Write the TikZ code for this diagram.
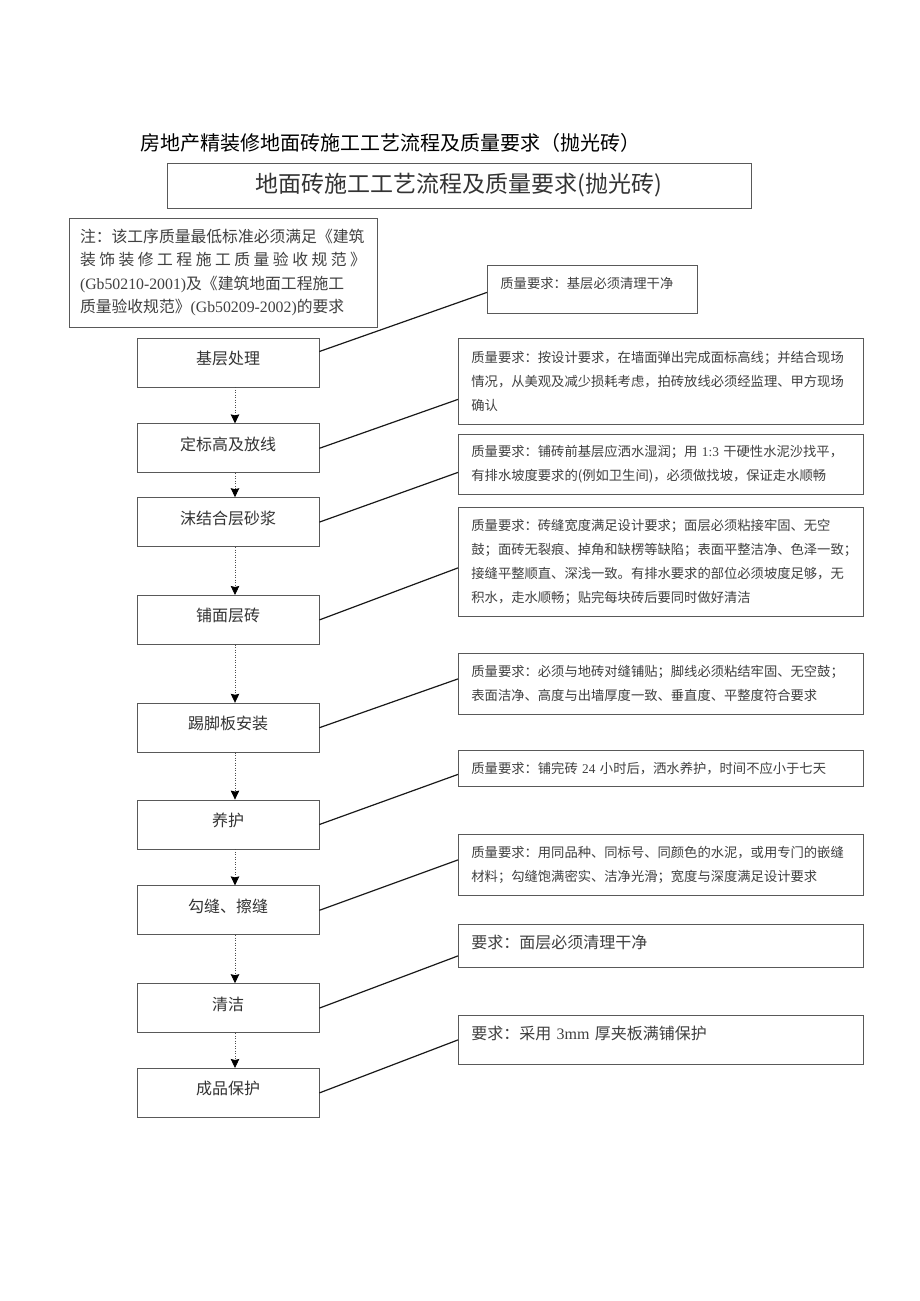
\documentclass[tikz,border=0pt]{standalone}
\usepackage{fontspec}
\setmainfont{Noto Sans CJK SC}
\newfontfamily\latin{Liberation Serif}
\usetikzlibrary{positioning,arrows.meta}

\tikzset{
  proc/.style={draw=black!65, line width=0.8pt, minimum width=182pt, minimum height=49pt,
    text=black!80, font=\fontsize{16}{16}\selectfont, text height=10pt, text depth=6pt},
  req/.style={draw=black!65, line width=0.8pt, anchor=north west, inner xsep=13pt,
    text width=379pt, align=left, text=black!75, font=\fontsize{13.3}{24}\selectfont},
  note/.style={draw=black!65, line width=0.8pt, inner xsep=11pt, text width=286pt,
    minimum height=109pt, align=left, text=black!75, font=\fontsize{15.8}{23.5}\selectfont},
  flow/.style={dash pattern=on 1pt off 1.5pt, line width=0.8pt, draw=black!70,
    -{Stealth[length=9pt, width=8.5pt, inset=1pt, black]}},
  link/.style={line width=1.2pt, draw=black!90},
}

\begin{document}
\begin{tikzpicture}[x=1pt, y=-1pt]
  \useasboundingbox[fill=white] (0,0) rectangle (920,1301);

  % headings
  \node[anchor=west, font=\fontsize{20}{20}\selectfont] (head) at (137,143)
    {房地产精装修地面砖施工工艺流程及质量要求（抛光砖）};
  \node[draw=black!65, line width=0.8pt, minimum width=584pt, minimum height=45pt,
    text=black!80, font=\fontsize{23}{23}\selectfont] (title) at (459,185.5)
    {地面砖施工工艺流程及质量要求(抛光砖)};

  % note
  \node[note] (nt) at (223,272.5) {注：该工序质量最低标准必须满足《建筑\\
    \makebox[286pt][s]{装\hfil 饰\hfil 装\hfil 修\hfil 工\hfil 程\hfil 施\hfil 工\hfil 质\hfil 量\hfil 验\hfil 收\hfil 规\hfil 范\hfil 》}\\
    {\latin (Gb50210-2001)}及《建筑地面工程施工\\
    质量验收规范》{\latin (Gb50209-2002)}的要求};

  % process steps
  \node[proc] (jc) at (228,362.5) {基层处理};
  \node[proc, below=36pt of jc] (dbg) {定标高及放线};
  \node[proc, below=24pt of dbg] (mj) {沫结合层砂浆};
  \node[proc, below=48pt of mj] (pz) {铺面层砖};
  \node[proc, below=58pt of pz] (tjb) {踢脚板安装};
  \node[proc, below=47pt of tjb] (yh) {养护};
  \node[proc, below=36pt of yh] (gf) {勾缝、擦缝};
  \node[proc, below=48pt of gf] (qj) {清洁};
  \node[proc, below=35pt of qj] (cp) {成品保护};

  % requirements
  \node[req, text width=184pt, inner ysep=0pt, text height=23pt, text depth=25pt] (r-jc) at (487,265)
    {质量要求：基层必须清理干净};
  \node[req, minimum height=86pt] (r-dbg) at (458,338)
    {质量要求：按设计要求，在墙面弹出完成面标高线；并结合现场\\
     情况，从美观及减少损耗考虑，拍砖放线必须经监理、甲方现场\\
     确认};
  \node[req, minimum height=60pt] (r-mj) at (458,434)
    {质量要求：铺砖前基层应洒水湿润；用 {\latin 1:3} 干硬性水泥沙找平，\\
     有排水坡度要求的(例如卫生间)，必须做找坡，保证走水顺畅};
  \node[req, minimum height=109pt] (r-pz) at (458,507)
    {质量要求：砖缝宽度满足设计要求；面层必须粘接牢固、无空\\
     鼓；面砖无裂痕、掉角和缺楞等缺陷；表面平整洁净、色泽一致；\\
     接缝平整顺直、深浅一致。有排水要求的部位必须坡度足够，无\\
     积水，走水顺畅；贴完每块砖后要同时做好清洁};
  \node[req, minimum height=61pt] (r-tjb) at (458,653)
    {质量要求：必须与地砖对缝铺贴；脚线必须粘结牢固、无空鼓；\\
     表面洁净、高度与出墙厚度一致、垂直度、平整度符合要求};
  \node[req, minimum height=36pt] (r-yh) at (458,750)
    {质量要求：铺完砖 {\latin 24} 小时后，洒水养护，时间不应小于七天};
  \node[req, minimum height=61pt] (r-gf) at (458,834)
    {质量要求：用同品种、同标号、同颜色的水泥，或用专门的嵌缝\\
     材料；勾缝饱满密实、洁净光滑；宽度与深度满足设计要求};
  \node[req, inner ysep=0pt, text height=24pt, text depth=19pt,
    font=\fontsize{16}{24}\selectfont] (r-qj) at (458,924)
    {要求：面层必须清理干净};
  \node[req, inner ysep=0pt, text height=24pt, text depth=25pt,
    font=\fontsize{16}{24}\selectfont] (r-cp) at (458,1015)
    {要求：采用 {\latin 3mm} 厚夹板满铺保护};

  % flow
  \draw[flow] ([xshift=7pt]jc.south) -- ([xshift=7pt]dbg.north);
  \draw[flow] ([xshift=7pt]dbg.south) -- ([xshift=7pt]mj.north);
  \draw[flow] ([xshift=7pt]mj.south) -- ([xshift=7pt]pz.north);
  \draw[flow] ([xshift=7pt]pz.south) -- ([xshift=7pt]tjb.north);
  \draw[flow] ([xshift=7pt]tjb.south) -- ([xshift=7pt]yh.north);
  \draw[flow] ([xshift=7pt]yh.south) -- ([xshift=7pt]gf.north);
  \draw[flow] ([xshift=7pt]gf.south) -- ([xshift=7pt]qj.north);
  \draw[flow] ([xshift=7pt]qj.south) -- ([xshift=7pt]cp.north);

  % links to requirements
  \draw[link] ([yshift=11pt]jc.east) -- ([yshift=-3pt]r-jc.west);
  \draw[link] (dbg.east) -- ([yshift=-18pt]r-dbg.west);
  \draw[link] (mj.east) -- ([yshift=-8pt]r-mj.west);
  \draw[link] (pz.east) -- ([yshift=-6pt]r-pz.west);
  \draw[link] (tjb.east) -- ([yshift=5pt]r-tjb.west);
  \draw[link] (yh.east) -- ([yshift=-6pt]r-yh.west);
  \draw[link] (gf.east) -- ([yshift=5pt]r-gf.west);
  \draw[link] (qj.east) -- ([yshift=-10pt]r-qj.west);
  \draw[link] (cp.east) -- (r-cp.west);
\end{tikzpicture}
\end{document}
